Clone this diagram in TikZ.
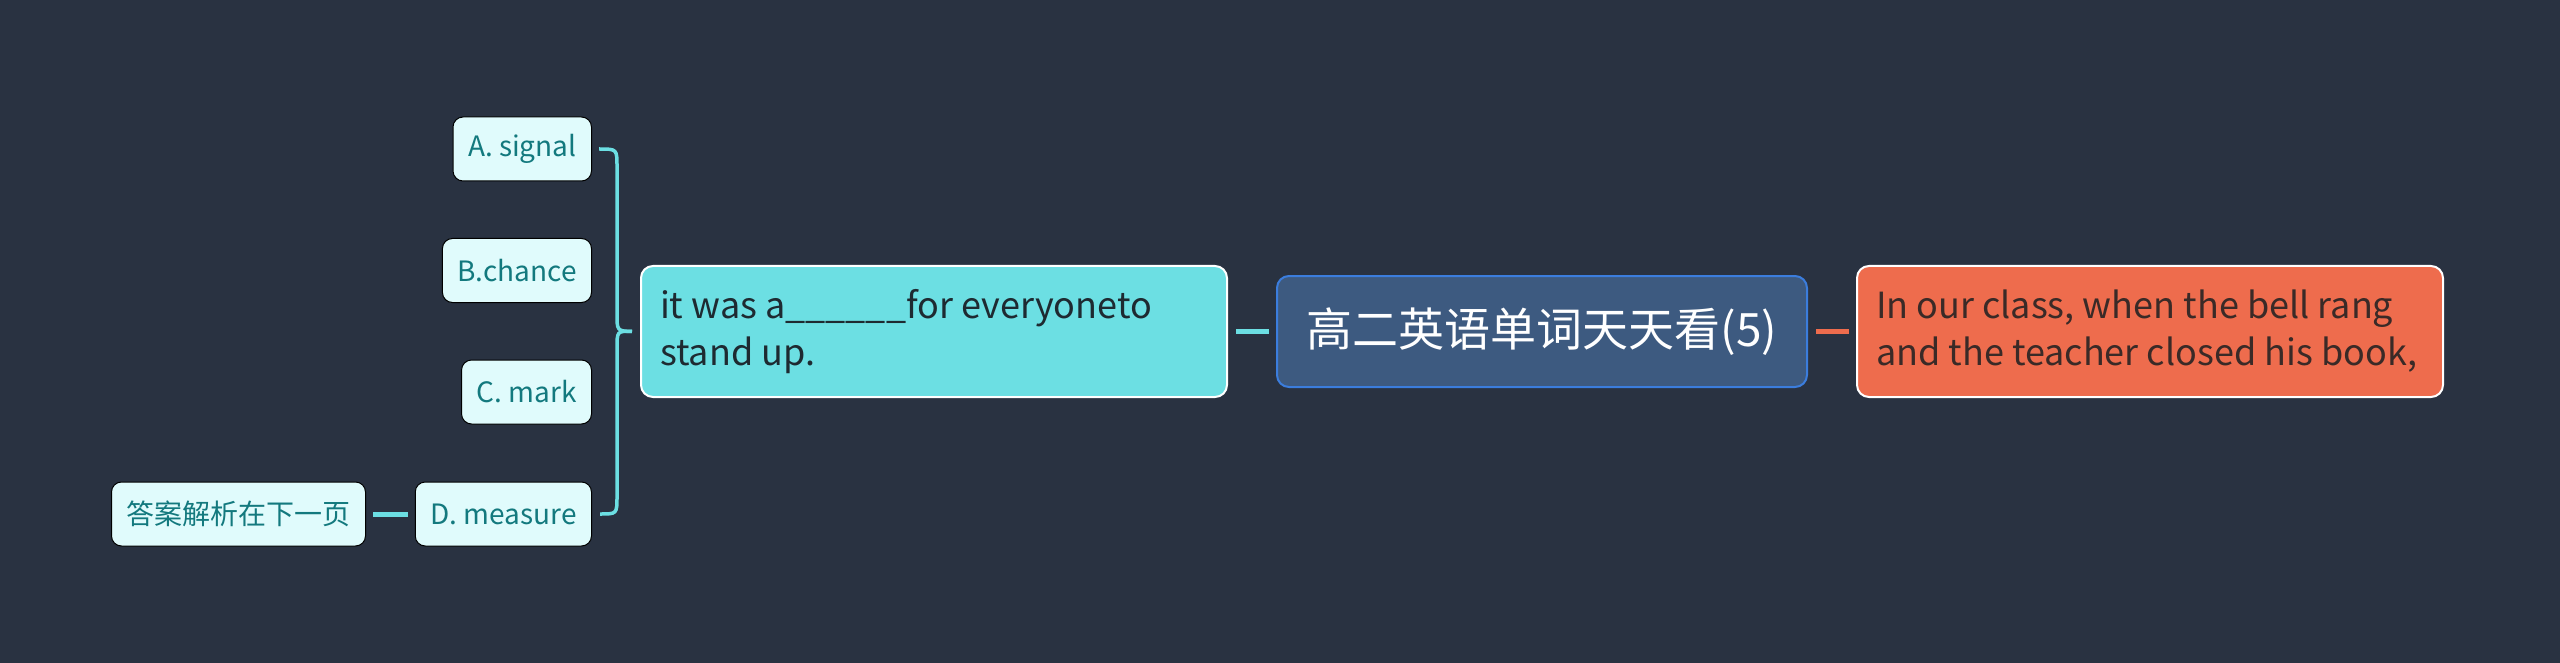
\documentclass[tikz,border=0pt]{standalone}
\usepackage{fontspec}
\setmainfont{Noto Sans CJK SC}
\newfontfamily\cjkfont{Noto Sans CJK SC}
\usetikzlibrary{positioning}

\definecolor{bgnavy}{HTML}{293241}
\definecolor{topicblue}{HTML}{3D5A80}
\definecolor{topicedge}{HTML}{3B7DDD}
\definecolor{qcyan}{HTML}{6CDFE3}
\definecolor{optfill}{HTML}{E0FBFC}
\definecolor{optteal}{HTML}{13797E}
\definecolor{coral}{HTML}{EE6C4D}
\definecolor{inkdark}{HTML}{1E2A31}
\definecolor{inkbrown}{HTML}{3A2A27}

\tikzset{every picture/.style={line width=0.75pt}}
\tikzset{
  topicbox/.style={draw=topicedge, line width=2pt, fill=topicblue, rounded corners=12pt,
    text=white, minimum width=530pt, minimum height=111pt, inner sep=0pt,
    font=\cjkfont\fontsize{46}{50}\selectfont},
  qbox/.style={draw=white, line width=2pt, fill=qcyan, rounded corners=12pt, text=inkdark,
    text width=548pt, align=flush left, inner xsep=19pt, minimum height=131pt,
    font=\fontsize{36}{47}\selectfont},
  leadbox/.style={qbox, fill=coral, text=inkbrown},
  optbox/.style={draw=black, line width=1pt, fill=optfill, rounded corners=10pt, text=optteal,
    minimum height=64pt, inner xsep=15pt, font=\fontsize{28}{34}\selectfont},
  cyanlink/.style={draw=qcyan, line width=5pt},
  corallink/.style={draw=coral, line width=5pt}
}

\begin{document}
\begin{tikzpicture}[x=1pt,y=1pt,yscale=-1,xscale=1]
        \fill[bgnavy] (0,0) rectangle (2560,663);
        \useasboundingbox (0,0) rectangle (2560,663);

        %Rounded Rect [id:topic]
        \node[topicbox] (topic) at (1542,331.5) {高二英语单词天天看(5)};
        %Rounded Rect [id:question]
        \node[qbox] (question) at (934,331.5) {\mbox{it was a\_\_\_\_\_\_for everyoneto}\\stand up.};
        %Rounded Rect [id:lead]
        \node[leadbox] (lead) at (2150,331.5) {\mbox{In our class, when the bell rang}\\\mbox{and the teacher closed his book,}};

        %Rounded Rect [id:options]
        \node[optbox, anchor=east] (optA) at (592,149) {A. signal};
        \node[optbox, anchor=east] (optB) at (592,270.5) {B.chance};
        \node[optbox, anchor=east] (optC) at (592,392) {C. mark};
        \node[optbox, anchor=east] (optD) at (592,514) {D. measure};
        \node[optbox, anchor=east] (answer) at (366,514) {答案解析在下一页};

        %Straight Lines [id:links]
        \draw[cyanlink] ([xshift=8pt]question.east) -- ([xshift=-7pt]topic.west);
        \draw[corallink] ([xshift=8pt]topic.east) -- ([xshift=-7pt]lead.west);
        \draw[cyanlink] ([xshift=7pt]answer.east) -- ([xshift=-7pt]optD.west);

        %Curve Lines [id:brace]
        \coordinate (tip) at ([xshift=-8pt]question.west);
        \draw[draw=qcyan, line width=3.5pt] ([xshift=7pt]optA.east) .. controls (617,149) and (617,149) .. (617,167)
            -- (617,313) .. controls (617,331) and (617,331) .. (tip);
        \draw[draw=qcyan, line width=3.5pt] ([xshift=8pt]optD.east) .. controls (617,514) and (617,514) .. (617,496)
            -- (617,349) .. controls (617,331) and (617,331) .. (tip);

        \end{tikzpicture}
\end{document}
